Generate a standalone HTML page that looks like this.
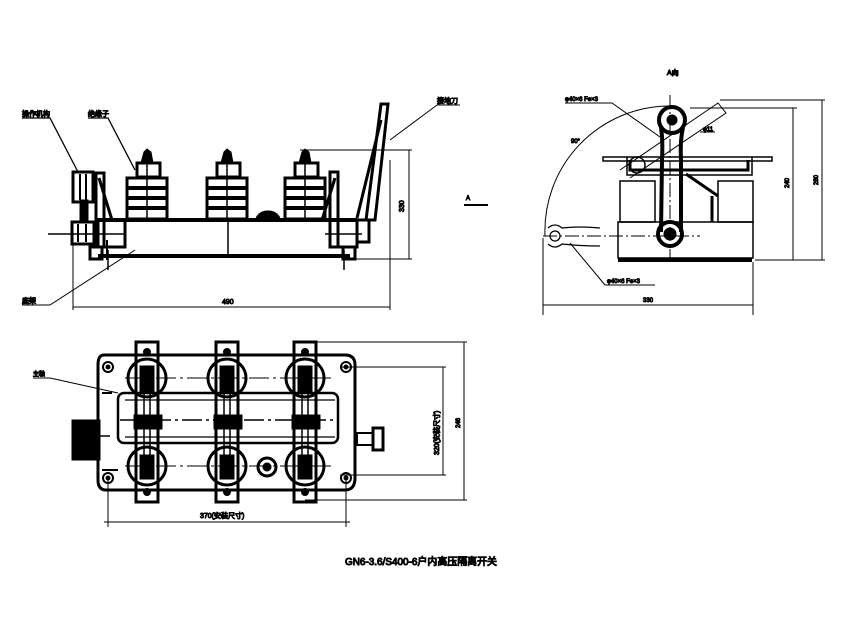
<!DOCTYPE html>
<html><head><meta charset="utf-8"><style>
html,body{margin:0;padding:0;background:#fff;}
svg{display:block}
text{font-family:"Liberation Sans","Noto Sans CJK SC",sans-serif;fill:#000}
</style></head><body>
<svg width="842" height="638" viewBox="0 0 842 638" xmlns="http://www.w3.org/2000/svg">
<g stroke="#000" fill="none">

<!-- ===== FRONT VIEW ===== -->
<path d="M22 118 H50 L78 172" stroke-width="1.3"/>
<text x="22" y="116" font-size="7">操作机构</text>
<path d="M88 118 H108 L135 170" stroke-width="1.3"/>
<text x="88" y="116" font-size="7">绝缘子</text>
<path d="M22 305 H50 L135 250" stroke-width="1"/>
<text x="22" y="303" font-size="7">底架</text>
<path d="M437 105 H460 M437 105 L390 140" stroke-width="1"/>
<text x="437" y="103" font-size="7">接地刀</text>

<rect x="73" y="172" width="20" height="30" stroke-width="3"/>
<line x1="80" y1="174" x2="80" y2="200" stroke-width="2"/>
<line x1="86" y1="174" x2="86" y2="200" stroke-width="2"/>
<rect x="72" y="222" width="22" height="22" stroke-width="3"/>
<line x1="78" y1="224" x2="78" y2="242" stroke-width="2"/>
<line x1="86" y1="224" x2="86" y2="242" stroke-width="2"/>
<rect x="80" y="200" width="8" height="22" fill="#000"/>
<line x1="48" y1="234" x2="126" y2="234" stroke-width="1.5"/>
<rect x="96" y="173" width="8" height="74" stroke-width="3"/>
<path d="M99 178 L112 220" stroke-width="3"/>
<rect x="98" y="220" width="27" height="27" stroke-width="3"/>
<line x1="107" y1="240" x2="107" y2="260" stroke-width="2"/>

<line x1="97" y1="220" x2="357" y2="220" stroke-width="4"/>
<line x1="98" y1="256" x2="350" y2="256" stroke-width="4"/>
<line x1="228" y1="220" x2="228" y2="256" stroke-width="1.5"/>
<rect x="90" y="247" width="12" height="12" stroke-width="3"/>
<line x1="108" y1="250" x2="108" y2="270" stroke-width="1.5"/>

<rect x="330" y="172" width="8" height="75" stroke-width="3"/>
<path d="M335 178 L322 220" stroke-width="3"/>
<rect x="330" y="220" width="27" height="27" stroke-width="3"/>
<rect x="357" y="220" width="12" height="22" stroke-width="3"/>
<line x1="325" y1="234" x2="362" y2="234" stroke-width="1.5"/>
<rect x="343" y="247" width="12" height="12" stroke-width="3"/>
<line x1="344" y1="250" x2="344" y2="270" stroke-width="1.5"/>
<path d="M381 104 L388 104 L375 220 L366 220 Z" stroke-width="3"/>
<path d="M381 120 L357 218" stroke-width="3"/>

<g id="ins">
<path d="M141 163 L144 152 L147 149 L151 152 L153 163 Z" fill="#000" stroke-width="1"/>
<rect x="137" y="163" width="23" height="14" stroke-width="3"/>
<rect x="127" y="178" width="40" height="41" stroke-width="3"/>
<line x1="126" y1="188" x2="168" y2="188" stroke-width="4"/>
<line x1="126" y1="198" x2="168" y2="198" stroke-width="4"/>
<line x1="126" y1="208" x2="168" y2="208" stroke-width="4"/>
<line x1="147" y1="160" x2="147" y2="220" stroke-width="1.5"/>
</g>
<use href="#ins" x="80"/>
<use href="#ins" x="158"/>
<path d="M256 220 A12 9 0 0 1 280 220 Z" fill="#000"/>

<line x1="300" y1="150" x2="412" y2="150" stroke-width="1"/>
<line x1="345" y1="259" x2="412" y2="259" stroke-width="1"/>
<line x1="409" y1="150" x2="409" y2="259" stroke-width="1"/>
<line x1="73" y1="244" x2="73" y2="310" stroke-width="1"/>
<line x1="390" y1="160" x2="390" y2="310" stroke-width="1"/>
<line x1="73" y1="307" x2="390" y2="307" stroke-width="1"/>
<text x="222" y="304" font-size="7">490</text>
<text x="404" y="212" font-size="7" transform="rotate(-90 404 212)">330</text>

<line x1="464" y1="205" x2="488" y2="205" stroke-width="2"/>
<text x="466" y="200" font-size="6">A</text>

<!-- ===== SIDE VIEW ===== -->
<text x="667" y="75" font-size="7">A向</text>
<path d="M545 236 A125 125 0 0 1 668 106" stroke-width="1"/>
<line x1="670" y1="95" x2="670" y2="260" stroke-width="1" stroke-dasharray="14 3 2 3"/>
<line x1="543" y1="236" x2="700" y2="236" stroke-width="1" stroke-dasharray="14 3 2 3"/>
<path d="M565 103 H612 L660 137" stroke-width="1"/>
<text x="565" y="101" font-size="6">φ40×6 Fe×3</text>
<path d="M605 285 H655 M605 285 L570 243" stroke-width="1"/>
<text x="607" y="283" font-size="6">φ40×6 Fe×3</text>
<text x="571" y="143" font-size="6">90°</text>
<path d="M620 170 L718 103 L726 113 L630 178" stroke-width="1"/>
<text x="703" y="131" font-size="6">φ11</text>
<line x1="700" y1="132" x2="715" y2="132" stroke-width="1"/>
<rect x="603" y="157" width="169" height="4" stroke-width="1.5"/>
<path d="M627 157 V175 H752 V157" stroke-width="1.5"/>
<path d="M630 160 V170 H748 V160" stroke-width="3"/>
<rect x="620" y="181" width="35" height="41" stroke-width="1.5"/>
<rect x="718" y="181" width="35" height="41" stroke-width="1.5"/>
<path d="M618 222 H753 V258 H618 Z" stroke-width="1.5"/>
<line x1="618" y1="260" x2="752" y2="260" stroke-width="4"/>
<line x1="686" y1="174" x2="718" y2="196" stroke-width="3"/>
<line x1="712" y1="196" x2="712" y2="222" stroke-width="3"/>
<path d="M661 128 Q663 140 662 160 L661 232 M683 128 Q680 140 681 160 L681 232" stroke-width="4"/>
<circle cx="672" cy="120" r="13" stroke-width="4"/>
<circle cx="672" cy="120" r="5" fill="#000"/>
<circle cx="670" cy="234" r="12" stroke-width="4"/>
<circle cx="670" cy="234" r="6" fill="#000"/>
<circle cx="637" cy="165" r="8" stroke-width="1.5"/>
<path d="M548 228 Q555 222 562 228 Q580 226 600 228 M548 244 Q555 250 562 244 Q580 246 600 246" stroke-width="1.2"/>
<circle cx="555" cy="236" r="5" stroke-width="1.2"/>
<line x1="720" y1="100" x2="825" y2="100" stroke-width="1"/>
<line x1="690" y1="108" x2="797" y2="108" stroke-width="1"/>
<line x1="755" y1="260" x2="825" y2="260" stroke-width="1"/>
<line x1="793" y1="108" x2="793" y2="260" stroke-width="1"/>
<line x1="822" y1="100" x2="822" y2="260" stroke-width="1"/>
<text x="789" y="188" font-size="6" transform="rotate(-90 789 188)">240</text>
<text x="818" y="185" font-size="6" transform="rotate(-90 818 185)">280</text>
<line x1="543" y1="238" x2="543" y2="315" stroke-width="1"/>
<line x1="753" y1="262" x2="753" y2="315" stroke-width="1"/>
<line x1="543" y1="305" x2="753" y2="305" stroke-width="1"/>
<text x="643" y="302" font-size="6">330</text>

<!-- ===== TOP VIEW ===== -->
<path d="M33 378 H50 L118 393" stroke-width="1"/>
<text x="33" y="376" font-size="6">主轴</text>
<path d="M104 355 H345 Q355 355 355 365 V478 Q355 490 345 490 H106 Q98 490 98 480 V365 Q98 355 104 355 Z" stroke-width="3"/>
<path d="M102 393 H112 M102 470 H118" stroke-width="2"/>
<circle cx="108" cy="367" r="5" stroke-width="2"/><circle cx="108" cy="367" r="2" fill="#000"/>
<circle cx="346" cy="367" r="5" stroke-width="2"/><circle cx="346" cy="367" r="2" fill="#000"/>
<circle cx="108" cy="478" r="5" stroke-width="2"/><circle cx="108" cy="478" r="2" fill="#000"/>
<circle cx="346" cy="478" r="5" stroke-width="2"/><circle cx="346" cy="478" r="2" fill="#000"/>
<rect x="118" y="393" width="220" height="50" rx="6" stroke-width="2.5"/>
<line x1="120" y1="420" x2="338" y2="420" stroke-width="1.5" stroke-dasharray="20 4 3 4"/>
<line x1="125" y1="400" x2="335" y2="400" stroke-width="1.2"/>
<line x1="125" y1="437" x2="335" y2="437" stroke-width="1.2"/>
<line x1="125" y1="378" x2="335" y2="378" stroke-width="1" stroke-dasharray="20 4 3 4"/>
<line x1="125" y1="466" x2="335" y2="466" stroke-width="1" stroke-dasharray="20 4 3 4"/>
<rect x="72" y="420" width="28" height="40" fill="#000"/>
<line x1="80" y1="436" x2="110" y2="436" stroke-width="1.5"/>
<rect x="357" y="433" width="16" height="12" stroke-width="2"/>
<rect x="373" y="428" width="10" height="22" stroke-width="3"/>
<g id="ph">
<rect x="136" y="342" width="22" height="160" stroke-width="3"/>
<circle cx="147" cy="352" r="3.5" fill="#000"/>
<circle cx="147" cy="492" r="3.5" fill="#000"/>
<circle cx="147" cy="378" r="19" stroke-width="3"/>
<circle cx="147" cy="466" r="19" stroke-width="3"/>
<rect x="140" y="366" width="14" height="26" fill="#000"/>
<rect x="140" y="455" width="14" height="24" fill="#000"/>
<rect x="134" y="415" width="28" height="14" fill="#000"/>
<line x1="144" y1="392" x2="144" y2="455" stroke-width="1.5"/>
<line x1="150" y1="392" x2="150" y2="455" stroke-width="1.5"/>
</g>
<use href="#ph" x="80"/>
<use href="#ph" x="158"/>
<circle cx="267" cy="467" r="9" stroke-width="3"/>
<circle cx="267" cy="467" r="4" fill="#000"/>
<line x1="305" y1="342" x2="467" y2="342" stroke-width="1"/>
<line x1="305" y1="500" x2="467" y2="500" stroke-width="1"/>
<line x1="464" y1="342" x2="464" y2="500" stroke-width="1"/>
<line x1="340" y1="367" x2="446" y2="367" stroke-width="1"/>
<line x1="340" y1="475" x2="446" y2="475" stroke-width="1"/>
<line x1="443" y1="367" x2="443" y2="475" stroke-width="1"/>
<text x="460" y="428" font-size="6" transform="rotate(-90 460 428)">246</text>
<text x="439" y="455" font-size="7" transform="rotate(-90 439 455)">320(安装尺寸)</text>
<line x1="108" y1="480" x2="108" y2="527" stroke-width="1"/>
<line x1="346" y1="480" x2="346" y2="527" stroke-width="1"/>
<line x1="104" y1="522" x2="350" y2="522" stroke-width="1"/>
<text x="200" y="518" font-size="7">370(安装尺寸)</text>

<text x="345" y="565" font-size="10" textLength="152" lengthAdjust="spacingAndGlyphs">GN6-3.6/S400-6户内高压隔离开关</text>
</g>
</svg>
</body></html>
